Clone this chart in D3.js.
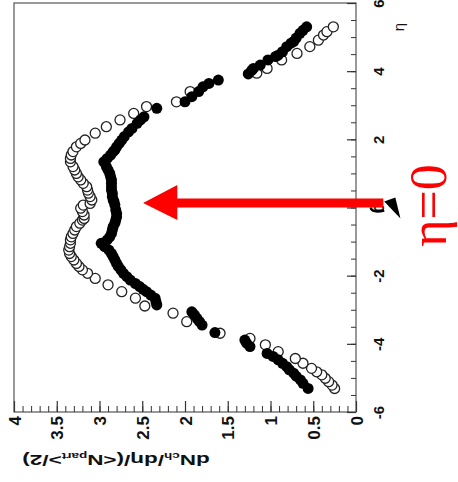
<!DOCTYPE html>
<html>
<head>
<meta charset="utf-8">
<script src="https://cdn.jsdelivr.net/npm/d3@7"></script>
<style>
  html, body { margin: 0; padding: 0; background: #fff; }
  svg { display: block; }
</style>
</head>
<body>
<svg id="chart" width="458" height="482"></svg>
<script>
// ---- data (η, dNch/dη/(<Npart>/2)) ----
const filledEta = [-5.31,-5.16,-5.06,-4.95,-4.86,-4.76,-4.67,-4.57,-4.47,-4.37,-4.28,-4.08,-3.98,-3.89,-3.67,-3.45,-3.35,-3.25,-3.15,-3.06,-2.86,-2.76,-2.66,-2.57,-2.47,-2.40,-2.32,-2.23,-2.13,-2.03,-1.93,-1.83,-1.73,-1.64,-1.54,-1.44,-1.35,-1.25,-1.15,-1.05,-0.95,-0.86,-0.76,-0.66,-0.56,-0.46,-0.37,-0.27,-0.17,-0.07,0.07,0.17,0.22,0.32,0.42,0.51,0.61,0.71,0.81,0.90,1.00,1.10,1.20,1.34,1.44,1.54,1.64,1.69,1.78,1.88,1.98,2.08,2.22,2.32,2.47,2.57,2.66,2.91,3.10,3.25,3.40,3.54,3.64,3.74,3.92,4.02,4.08,4.18,4.33,4.43,4.47,4.57,4.72,4.82,4.87,4.97,5.11,5.20,5.30];
const filledVal = [0.56,0.62,0.65,0.70,0.73,0.78,0.81,0.86,0.91,0.97,1.04,1.24,1.28,1.30,1.65,1.80,1.83,1.86,1.89,1.92,2.33,2.34,2.35,2.40,2.45,2.49,2.53,2.58,2.64,2.68,2.72,2.75,2.78,2.80,2.82,2.84,2.86,2.89,2.94,2.98,2.91,2.88,2.86,2.85,2.84,2.82,2.81,2.80,2.80,2.81,2.82,2.83,2.84,2.85,2.85,2.86,2.86,2.86,2.86,2.87,2.88,2.90,2.92,2.95,2.91,2.87,2.84,2.82,2.80,2.77,2.74,2.71,2.66,2.62,2.56,2.52,2.48,2.33,2.00,1.92,1.84,1.79,1.72,1.61,1.26,1.22,1.20,1.12,1.03,0.94,0.91,0.86,0.81,0.76,0.73,0.70,0.655,0.62,0.577];

const openEta = [-5.31,-5.21,-5.11,-5.01,-4.91,-4.82,-4.72,-4.57,-4.43,-4.23,-4.03,-3.84,-3.69,-3.35,-3.10,-2.89,-2.66,-2.47,-2.27,-2.08,-1.93,-1.83,-1.73,-1.64,-1.54,-1.44,-1.35,-1.25,-1.15,-1.05,-0.95,-0.86,-0.76,-0.66,-0.56,-0.46,-0.37,-0.32,-0.22,-0.12,-0.02,0.07,0.12,0.22,0.32,0.42,0.51,0.61,0.71,0.81,0.90,1.00,1.10,1.20,1.34,1.44,1.54,1.64,1.78,1.88,1.98,2.18,2.37,2.57,2.76,2.96,3.10,3.40,3.94,4.08,4.33,4.52,4.72,4.91,5.06,5.16,5.30];
const openVal = [0.25,0.28,0.32,0.36,0.40,0.46,0.52,0.62,0.71,0.91,1.06,1.24,1.59,1.98,2.14,2.47,2.58,2.74,2.90,3.05,3.14,3.20,3.24,3.27,3.30,3.33,3.35,3.36,3.35,3.34,3.34,3.33,3.31,3.29,3.27,3.23,3.20,3.18,3.18,3.20,3.22,3.19,3.11,3.09,3.11,3.13,3.14,3.15,3.19,3.22,3.25,3.27,3.29,3.31,3.34,3.34,3.33,3.31,3.27,3.22,3.17,3.05,2.92,2.76,2.60,2.45,2.10,1.94,1.16,1.04,0.87,0.69,0.54,0.44,0.38,0.34,0.265];

const valTicks = [0, 0.5, 1, 1.5, 2, 2.5, 3, 3.5, 4];
const valTickLabels = ["0", "0.5", "1", "1.5", "2", "2.5", "3", "3.5", "4"];
const etaTicks = [-6, -4, -2, 0, 2, 4, 6];
const etaTickLabels = ["-6", "-4", "-2", "0", "2", "4", "6"];
const yTitleParts = [["dN", ""], ["ch", "sub"], ["/dη/(<N", ""], ["part", "sub"], [">/2)", ""]];
const etaTitle = "η";
const annotationText = "η=0";

// ---- geometry ----
const svg = d3.select("#chart");
const pLeft = 14, pRight = 356, pTop = 3, pBottom = 412;
const x = d3.scaleLinear().domain([0, 4]).range([pRight, pLeft]);   // value axis (horizontal, reversed)
const y = d3.scaleLinear().domain([-6, 6]).range([pBottom, pTop]);  // η axis (vertical)
const font = "'Liberation Sans', Arial, Helvetica, sans-serif";

// frame
svg.append("rect")
  .attr("x", pLeft).attr("y", pTop)
  .attr("width", pRight - pLeft).attr("height", pBottom - pTop)
  .attr("fill", "none").attr("stroke", "#555").attr("stroke-width", 1.2);

// η axis on the right: minor ticks
svg.append("g")
  .attr("transform", `translate(${pRight},0)`)
  .call(d3.axisRight(y).tickValues(d3.range(-6, 6.01, 0.5)).tickSize(-5).tickFormat(""))
  .call(g => g.select(".domain").remove())
  .call(g => g.selectAll("line").attr("stroke", "#333"));

// η axis major
const etaAxis = svg.append("g")
  .attr("transform", `translate(${pRight},0)`)
  .call(d3.axisRight(y).tickValues(etaTicks).tickSize(-9).tickFormat((d, i) => etaTickLabels[i]))
  .call(g => g.select(".domain").remove());
etaAxis.selectAll("line").attr("stroke", "#333").attr("stroke-width", 1.2);
etaAxis.selectAll("text")
  .attr("x", 0).attr("y", 0).attr("dy", 0)
  .attr("transform", "translate(28,0) rotate(-90)")
  .attr("text-anchor", "middle")
  .attr("font-family", font).attr("font-weight", "bold").attr("font-size", 15).attr("fill", "#111");

// value axis bottom: minor ticks
svg.append("g")
  .attr("transform", `translate(0,${pBottom})`)
  .call(d3.axisBottom(x).tickValues(d3.range(0, 4.001, 0.1)).tickSize(-6).tickFormat(""))
  .call(g => g.select(".domain").remove())
  .call(g => g.selectAll("line").attr("stroke", "#333"));

const valAxis = svg.append("g")
  .attr("transform", `translate(0,${pBottom})`)
  .call(d3.axisBottom(x).tickValues(valTicks).tickSize(-11).tickFormat((d, i) => valTickLabels[i]))
  .call(g => g.select(".domain").remove());
valAxis.selectAll("line").attr("stroke", "#333").attr("stroke-width", 1.2);
valAxis.selectAll("text")
  .attr("x", 0).attr("y", 0).attr("dy", "0.36em")
  .attr("transform", "translate(0,4) rotate(-90)")
  .attr("text-anchor", "end")
  .attr("font-family", font).attr("font-weight", "bold").attr("font-size", 17).attr("fill", "#111");

// y title (upside-down, horizontally stretched like the reference)
const yt = svg.append("text")
  .attr("transform", `translate(116,455) rotate(180) scale(1.5,1)`)
  .attr("text-anchor", "middle")
  .attr("font-family", font).attr("font-weight", "bold").attr("font-size", 15).attr("fill", "#111");
yTitleParts.forEach(([t, k]) => {
  const ts = yt.append("tspan").text(t);
  if (k === "sub") ts.attr("font-size", 9).attr("baseline-shift", "-25%");
  else ts.attr("baseline-shift", "0");
});

// η title
svg.append("text")
  .attr("transform", "translate(404,27) rotate(-90)")
  .attr("text-anchor", "middle")
  .attr("font-family", font).attr("font-size", 15).attr("fill", "#111")
  .text(etaTitle);

// data
const openData = openEta.map((e, i) => ({ e, v: openVal[i] }));
const filledData = filledEta.map((e, i) => ({ e, v: filledVal[i] }));

svg.append("g").selectAll("circle").data(openData).join("circle")
  .attr("cx", d => x(d.v)).attr("cy", d => y(d.e)).attr("r", 5)
  .attr("fill", "#fff").attr("stroke", "#222").attr("stroke-width", 1.3);

svg.append("g").selectAll("circle").data(filledData).join("circle")
  .attr("cx", d => x(d.v)).attr("cy", d => y(d.e)).attr("r", 5.5)
  .attr("fill", "#000");

// annotation: black triangle marker near η=0 axis
const y0 = y(0);
svg.append("path")
  .attr("d", `M${x(-0.33)},${y0 - 6} L${x(-0.46)},${y0 - 10} L${x(-0.52)},${y0 + 11} Z`)
  .attr("fill", "#000");
svg.append("path")
  .attr("d", `M${x(-0.17)},${y0} Q${x(-0.19)},${y0 + 6} ${x(-0.33)},${y0 + 3}`)
  .attr("fill", "none").attr("stroke", "#000").attr("stroke-width", 2.5);

// red arrow along η=0
const ay = y0 - 4.5;
svg.append("path")
  .attr("d", `M${x(-0.32)},${ay - 4.5} L${x(2.09)},${ay - 4.5} L${x(2.09)},${ay - 18} L${x(2.49)},${ay} L${x(2.09)},${ay + 17} L${x(2.09)},${ay + 4.5} L${x(-0.32)},${ay + 4.5} Z`)
  .attr("fill", "#ff0000");

// red "η=0"
svg.append("text")
  .attr("transform", `translate(446,${y0 - 2}) rotate(-90)`)
  .attr("text-anchor", "middle")
  .attr("font-family", "'Liberation Serif', 'Times New Roman', serif")
  .attr("font-size", 52).attr("fill", "#ff0000")
  .text(annotationText);
</script>
</body>
</html>
